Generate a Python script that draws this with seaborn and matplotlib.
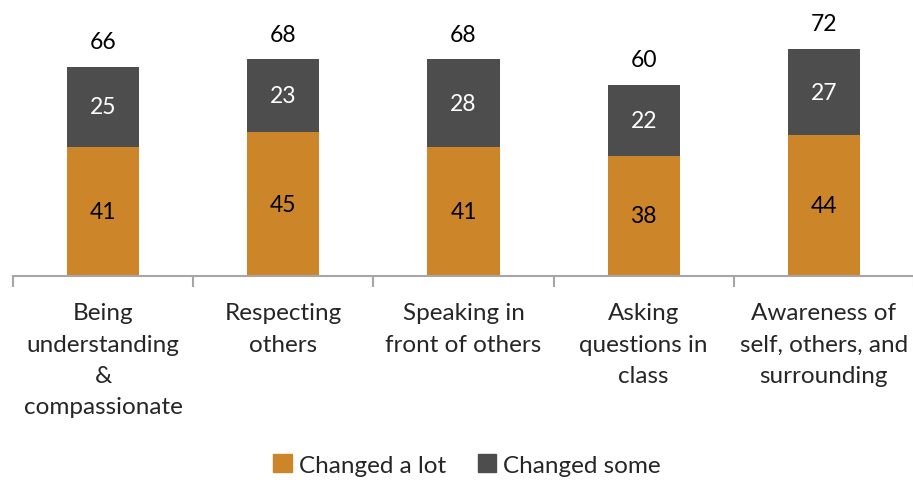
import matplotlib
matplotlib.use("Agg")
import matplotlib.pyplot as plt
import matplotlib.patches as mpatches
import seaborn as sns
import pandas as pd

categories = [
    "Being\nunderstanding\n&\ncompassionate",
    "Respecting\nothers",
    "Speaking in\nfront of others",
    "Asking\nquestions in\nclass",
    "Awareness of\nself, others, and\nsurrounding",
]
changed_a_lot = [40.6, 45.3, 40.6, 37.8, 44.3]
changed_some = [25.3, 22.9, 27.6, 22.4, 27.3]
series_names = ["Changed a lot", "Changed some"]

ORANGE = "#CD852A"
GREY = "#4D4D4D"
AXIS = "#A6A6A6"

sns.set_theme(style="white")
plt.rcParams["font.family"] = ["Lato", "DejaVu Sans"]

df = pd.DataFrame({
    "category": categories,
    "lot": changed_a_lot,
    "some": changed_some,
})
df["total"] = df["lot"] + df["some"]

fig = plt.figure(figsize=(9.13, 4.81), dpi=100)
ax = fig.add_axes([13 / 913, 204 / 481, 901 / 913, 254 / 481])

# Stacked bars: full total in grey, lower segment in orange on top of it
sns.barplot(data=df, x="category", y="total", color=GREY, width=0.4,
            saturation=1, ax=ax, linewidth=0)
sns.barplot(data=df, x="category", y="lot", color=ORANGE, width=0.4,
            saturation=1, ax=ax, linewidth=0)

ax.set_ylim(0, 80)
ax.set_xlim(-0.5, len(categories) - 0.5)

fs_val = 16.5
fs_txt = 17.5
for i, row in df.iterrows():
    ax.text(i, row["lot"] / 2, f"{row['lot']:.0f}", ha="center", va="center",
            fontsize=fs_val, color="black")
    ax.text(i, row["lot"] + row["some"] / 2, f"{row['some']:.0f}", ha="center",
            va="center", fontsize=fs_val, color="white")
    ax.annotate(f"{row['total']:.0f}", (i, row["total"]), xytext=(0, 18),
                textcoords="offset points", ha="center", va="center",
                fontsize=fs_val, color="black")

# Category axis: grey baseline with tick marks between categories
for side in ["top", "right", "left"]:
    ax.spines[side].set_visible(False)
ax.spines["bottom"].set_color(AXIS)
ax.spines["bottom"].set_linewidth(1.5)
ax.set_yticks([])
ax.set_ylabel("")
ax.set_xlabel("")
ax.set_xticks(range(len(categories)))
ax.set_xticklabels(categories, fontsize=fs_txt, linespacing=1.6, va="top")
ax.tick_params(axis="x", which="major", length=0, pad=19)
ax.set_xticks([i - 0.5 for i in range(len(categories) + 1)], minor=True)
ax.tick_params(axis="x", which="minor", length=8, width=1.5, color=AXIS,
               direction="out", bottom=True)

handles = [mpatches.Patch(color=ORANGE, label=series_names[0]),
           mpatches.Patch(color=GREY, label=series_names[1])]
fig.legend(handles=handles, loc="center", bbox_to_anchor=(467 / 913, 1 - 466 / 481),
           ncol=2, frameon=False, fontsize=fs_txt, handlelength=0.75, handleheight=0.75,
           handletextpad=0.3, columnspacing=1.3)

fig.savefig("out.png", dpi=100)
